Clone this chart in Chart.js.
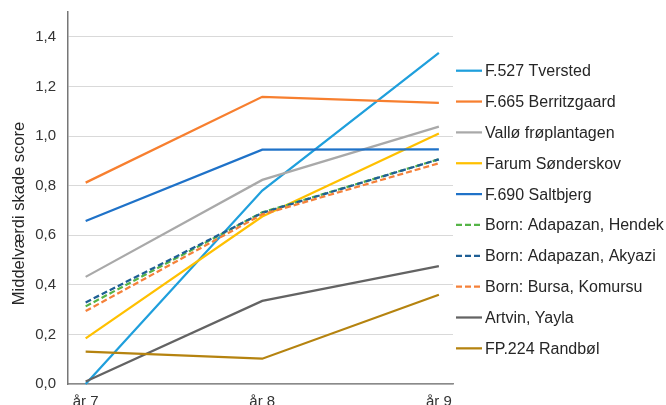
<!DOCTYPE html>
<html lang="da">
<head>
  <meta charset="UTF-8" />
  <title>Middelværdi skade score</title>
  <script src="https://cdn.jsdelivr.net/npm/chart.js"></script>
  <style>
    html, body { margin: 0; padding: 0; background: #fff; }
    .wrap { position: relative; width: 666px; height: 405px; }
  </style>
</head>
<body>

  <div class="wrap">
    <canvas id="graf"></canvas>
  </div>

  <script>
    // data
    const categories = ['år 7', 'år 8', 'år 9'];
    const years = [7, 8, 9];

    const seriesNames = [
      'F.527 Tversted',
      'F.665 Berritzgaard',
      'Vallø frøplantagen',
      'Farum Sønderskov',
      'F.690 Saltbjerg',
      'Born: Adapazan, Hendek',
      'Born: Adapazan, Akyazi',
      'Born: Bursa, Komursu',
      'Artvin, Yayla',
      'FP.224 Randbøl'
    ];

    const tversted     = [0.0, 0.78, 1.335];
    const berritzgaard = [0.812, 1.158, 1.134];
    const vallo        = [0.432, 0.823, 1.038];
    const farum        = [0.184, 0.675, 1.01];
    const saltbjerg    = [0.657, 0.945, 0.946];
    const hendek       = [0.313, 0.692, 0.906];
    const akyazi       = [0.329, 0.69, 0.906];
    const komursu      = [0.294, 0.684, 0.89];
    const artvin       = [0.01, 0.335, 0.475];
    const randbol      = [0.131, 0.102, 0.36];

    const yTicks = [0, 0.2, 0.4, 0.6, 0.8, 1.0, 1.2, 1.4];
    const yTitle = 'Middelværdi skade score';

    const seriesValues = [tversted, berritzgaard, vallo, farum, saltbjerg, hendek, akyazi, komursu, artvin, randbol];
    const colors = ['#1f9fdc', '#f77f2f', '#a9a9a9', '#ffc000', '#1f72c8', '#55b447', '#1f5f95', '#f5813a', '#636363', '#b5830f'];
    const dashed = [false, false, false, false, false, true, true, true, false, false];

    const FONT = '"Liberation Sans", Arial, sans-serif';

    const datasets = seriesNames.map((name, i) => ({
      label: name,
      data: seriesValues[i].map((v, j) => ({ x: years[j], y: v })),
      borderColor: colors[i],
      backgroundColor: colors[i],
      borderWidth: 2.25,
      borderDash: dashed[i] ? [6, 3] : [],
      pointRadius: 0,
      tension: 0,
      clip: false,
      order: seriesNames.length - i
    }));

    // legende til højre + aksetitel
    const sideLegend = {
      id: 'sideLegend',
      afterDraw(chart) {
        const ctx = chart.ctx;
        const area = chart.chartArea;
        const pitch = 30.85;
        const y0 = 70.7;
        ctx.save();
        ctx.font = '16px ' + FONT;
        ctx.textBaseline = 'middle';
        ctx.textAlign = 'left';
        chart.data.datasets.forEach((ds, i) => {
          const y = y0 + i * pitch;
          ctx.beginPath();
          ctx.setLineDash(ds.borderDash || []);
          ctx.lineWidth = 2.25;
          ctx.strokeStyle = ds.borderColor;
          ctx.moveTo(area.right + 3, y);
          ctx.lineTo(area.right + 29, y);
          ctx.stroke();
          ctx.setLineDash([]);
          ctx.fillStyle = '#262626';
          ctx.fillText(ds.label, area.right + 32, y + 1);
        });

        ctx.translate(19, 213.5);
        ctx.rotate(-Math.PI / 2);
        ctx.textAlign = 'center';
        ctx.font = '16.5px ' + FONT;
        ctx.fillText(yTitle, 0, 0);
        ctx.restore();
      }
    };

    const ctx = document.getElementById('graf').getContext('2d');

    const chart = new Chart(ctx, {
      type: 'line',
      data: { datasets: datasets },
      plugins: [sideLegend],
      options: {
        responsive: true,
        maintainAspectRatio: false,
        animation: false,
        layout: {
          padding: { top: 12, right: 213, left: 0, bottom: 0 }
        },
        scales: {
          x: {
            type: 'linear',
            min: 6.9,
            max: 9.08,
            grid: { display: false, drawTicks: false },
            border: { display: true, color: '#8a8a8a', width: 1.5 },
            afterBuildTicks: (scale) => {
              scale.ticks = years.map(v => ({ value: v }));
            },
            afterFit: (scale) => {
              scale.height = 21;
              scale.paddingLeft = 0;
              scale.paddingRight = 0;
            },
            ticks: {
              padding: 9,
              color: '#333',
              font: { family: FONT, size: 15 },
              maxRotation: 0,
              callback: (v) => categories[years.indexOf(v)]
            }
          },
          y: {
            min: 0,
            max: 1.5,
            grid: { color: '#d9d9d9', lineWidth: 1, drawTicks: false },
            border: { display: true, color: '#777', width: 1.5 },
            afterBuildTicks: (scale) => {
              scale.ticks = yTicks.map(v => ({ value: v }));
            },
            afterFit: (scale) => {
              scale.width = 68;
              scale.paddingTop = 0;
              scale.paddingBottom = 0;
            },
            ticks: {
              padding: 12,
              color: '#333',
              font: { family: FONT, size: 15 },
              callback: (v) => v.toFixed(1).replace('.', ',')
            }
          }
        },
        plugins: {
          legend: { display: false },
          tooltip: { enabled: false },
          title: { display: false }
        }
      }
    });
  </script>

</body>
</html>
